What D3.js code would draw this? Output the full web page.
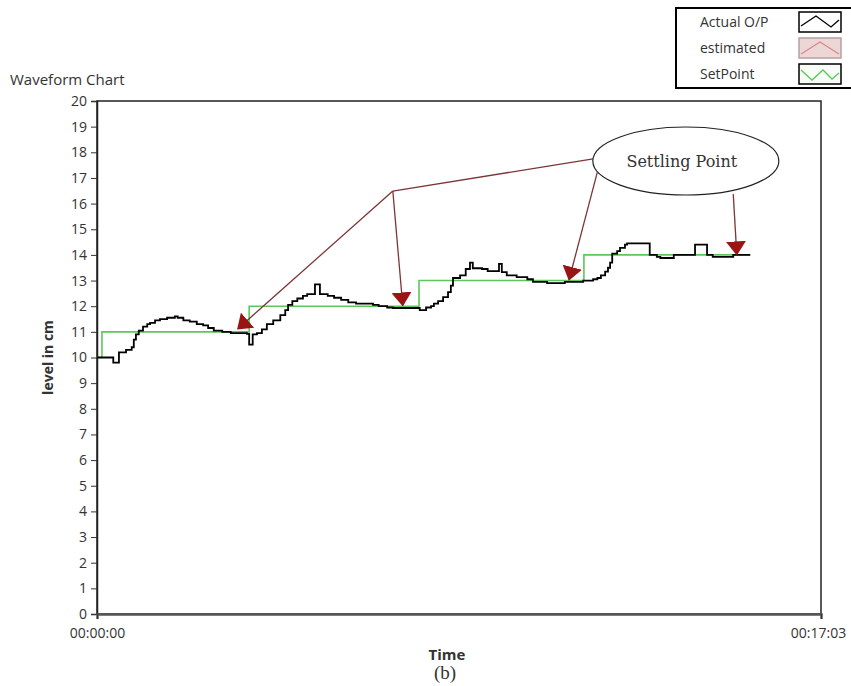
<!DOCTYPE html>
<html>
<head>
<meta charset="utf-8">
<script src="https://cdn.jsdelivr.net/npm/d3@7"></script>
<style>
  body { margin: 0; background: #fff; }
  svg text { font-family: "Open Sans", "DejaVu Sans", sans-serif; fill: #333; }
</style>
</head>
<body>
<svg id="chart" width="851" height="686"></svg>
<script>
// actual output (black), time in seconds, level in cm
const actualTime = [0, 23, 31, 41, 49, 52, 55, 59, 65, 71, 75, 82, 89, 99, 110, 114, 122, 131, 141, 150,
    157, 165, 177, 189, 212, 215, 220, 226, 233, 240, 249, 259, 266, 270, 276, 283, 291, 297, 308, 315,
    326, 335, 345, 355, 366, 390, 398, 410, 418, 456, 465, 472, 476, 482, 489, 496, 500, 503, 513, 521,
    527, 531, 544, 552, 565, 568, 572, 579, 593, 608, 616, 636, 661, 687, 701, 707, 712, 718, 722, 725,
    728, 735, 739, 746, 749, 779, 781, 791, 796, 815, 844, 845, 859, 862, 870, 897, 899, 923];
const actualLevel = [10.0, 9.8, 10.2, 10.3, 10.4, 10.7, 10.9, 11.05, 11.2, 11.3, 11.35, 11.45, 11.5, 11.55, 11.6, 11.55, 11.45, 11.4, 11.3, 11.25,
    11.15, 11.05, 11.0, 10.95, 10.92, 10.5, 10.9, 10.95, 11.1, 11.3, 11.45, 11.65, 11.85, 12.05, 12.2, 12.3, 12.4, 12.47, 12.85, 12.47,
    12.4, 12.33, 12.25, 12.15, 12.1, 12.05, 12.0, 11.95, 11.93, 11.85, 11.95, 12.0, 12.1, 12.2, 12.35, 12.55, 12.8, 13.1, 13.2, 13.45,
    13.7, 13.48, 13.45, 13.37, 13.37, 13.65, 13.33, 13.2, 13.13, 13.05, 12.95, 12.9, 12.95, 13.0, 13.05, 13.1, 13.2, 13.35, 13.5, 13.7,
    14.05, 14.15, 14.27, 14.4, 14.45, 14.45, 14.0, 13.92, 13.88, 14.0, 14.0, 14.4, 14.4, 14.0, 13.92, 13.92, 14.0, 14.0];

// set point steps (green)
const setTime = [0, 7, 215, 455, 688, 923];
const setLevel = [10, 11, 12, 13, 14, 14];

const yTicks = d3.range(0, 21);
const xTickValues = [0, 1023];
const legendLabels = ["Actual O/P", "estimated", "SetPoint"];

// settling point annotation (time s, level cm)
const calloutCenter = [832, 17.66];
const calloutLines = [[701, 17.74], [418, 16.49]];
const settleArrows = [
    { from: [418, 16.49], to: [199, 11.12] },
    { from: [418, 16.49], to: [432, 12.03] },
    { from: [707, 17.23], to: [667, 13.03] },
    { from: [899, 16.37], to: [904, 14.02] }
];

const svg = d3.select("#chart");
const margin = { left: 97, top: 101, right: 30, bottom: 72 };
const W = 851, H = 686;

const X = d3.scaleLinear().domain([0, 1023]).range([margin.left, W - margin.right]);
const Y = d3.scaleLinear().domain([0, 20]).range([H - margin.bottom, margin.top]);

function fmtTime(s) {
    const p = v => String(v).padStart(2, "0");
    return p(Math.floor(s / 3600)) + ":" + p(Math.floor(s / 60) % 60) + ":" + p(s % 60);
}

// frame
svg.append("rect")
    .attr("x", X(0)).attr("y", Y(20))
    .attr("width", X(1023) - X(0)).attr("height", Y(0) - Y(20))
    .attr("fill", "none").attr("stroke", "#222").attr("stroke-width", 1.5);

// y axis
const yAxis = svg.append("g")
    .attr("transform", `translate(${X(0)},0)`)
    .call(d3.axisLeft(Y).tickValues(yTicks).tickSize(6).tickPadding(4));
yAxis.select(".domain").attr("stroke", "#222").attr("stroke-width", 1.5);
yAxis.selectAll(".tick line").attr("stroke", "#333");
yAxis.selectAll("text").style("font-size", "14px").attr("fill", "#333");

// x axis
const xAxis = svg.append("g")
    .attr("transform", `translate(0,${Y(0)})`)
    .call(d3.axisBottom(X).tickValues(xTickValues).tickFormat(fmtTime).tickSize(5).tickPadding(9));
xAxis.select(".domain").attr("stroke", "#555").attr("stroke-width", 2.5);
xAxis.selectAll(".tick line").attr("stroke", "#333");
xAxis.selectAll("text").style("font-size", "14px").attr("fill", "#333");
xAxis.selectAll(".tick").filter(d => d === 1023).select("text").attr("dx", -3);

// series
const setData = setTime.map((t, i) => [t, setLevel[i]]);
const actualData = actualTime.map((t, i) => [t, actualLevel[i]]);
const line = d3.line().x(d => X(d[0])).y(d => Y(d[1])).curve(d3.curveStepAfter);

svg.append("path").datum(setData)
    .attr("d", line).attr("fill", "none")
    .attr("stroke", "#5cc85c").attr("stroke-width", 1.6);

svg.append("path").datum(actualData)
    .attr("d", line).attr("fill", "none")
    .attr("stroke", "#000").attr("stroke-width", 1.8);

// titles
svg.append("text").attr("x", 10).attr("y", 85)
    .style("font-size", "15px").text("Waveform Chart");

svg.append("text")
    .attr("transform", `translate(53,${Y(10)}) rotate(-90)`)
    .attr("text-anchor", "middle")
    .style("font-size", "14px").style("font-weight", "bold").attr("fill", "#000")
    .text("level in cm");

svg.append("text").attr("x", 447).attr("y", 660)
    .attr("text-anchor", "middle")
    .style("font-size", "15px").style("font-weight", "bold").attr("fill", "#000")
    .text("Time");

svg.append("text").attr("x", 445).attr("y", 679)
    .attr("text-anchor", "middle")
    .style("font-family", "'Liberation Serif', serif")
    .style("font-size", "19px").attr("fill", "#222")
    .text("(b)");

// legend
const legend = svg.append("g");
legend.append("rect").attr("x", 676).attr("y", 8).attr("width", 190).attr("height", 80)
    .attr("fill", "#fff").attr("stroke", "#000").attr("stroke-width", 2);

const iconStyles = [
    { fill: "#fff", stroke: "#000", line: "#000", pts: [[2, 14], [17, 4], [32, 15], [40, 8]] },
    { fill: "#ecd6d6", stroke: "#b8a0a0", line: "#d98a8a", pts: [[2, 16], [21, 4], [40, 16]] },
    { fill: "#f7fcf7", stroke: "#000", line: "#5cc85c", pts: [[2, 6], [13, 16], [24, 6], [33, 15], [40, 9]] }
];
legendLabels.forEach(function (label, i) {
    const cy = 22 + i * 26;
    legend.append("text").attr("x", 700).attr("y", cy + 5)
        .style("font-size", "14px").attr("fill", "#222").text(label);
    const st = iconStyles[i];
    legend.append("rect").attr("x", 799).attr("y", cy - 10).attr("width", 42).attr("height", 20)
        .attr("fill", st.fill).attr("stroke", st.stroke).attr("stroke-width", 1.5);
    legend.append("polyline")
        .attr("points", st.pts.map(p => [799 + p[0], cy - 10 + p[1]].join(",")).join(" "))
        .attr("fill", "none").attr("stroke", st.line).attr("stroke-width", 1.3);
});

// settling point callout
const annColor = "#7d3535";
svg.append("defs").append("marker")
    .attr("id", "head")
    .attr("markerUnits", "userSpaceOnUse")
    .attr("viewBox", "0 -10 14 20")
    .attr("refX", 13).attr("refY", 0)
    .attr("markerWidth", 14).attr("markerHeight", 20)
    .attr("orient", "auto")
    .append("path").attr("d", "M0,-10L14,0L0,10Z").attr("fill", "#9b1414");

svg.append("ellipse")
    .attr("cx", X(calloutCenter[0])).attr("cy", Y(calloutCenter[1]))
    .attr("rx", 93).attr("ry", 34)
    .attr("fill", "#fff").attr("stroke", "#222").attr("stroke-width", 1.2);

svg.append("text")
    .attr("x", X(calloutCenter[0]) - 4).attr("y", Y(calloutCenter[1]) + 6)
    .attr("text-anchor", "middle")
    .style("font-family", "'DejaVu Serif', serif")
    .style("font-size", "16px").attr("fill", "#8b3a3a")
    .text("Settling Point");

svg.append("line")
    .attr("x1", X(calloutLines[0][0])).attr("y1", Y(calloutLines[0][1]))
    .attr("x2", X(calloutLines[1][0])).attr("y2", Y(calloutLines[1][1]))
    .attr("stroke", annColor).attr("stroke-width", 1.3);

svg.selectAll("line.settle")
    .data(settleArrows)
    .enter()
    .append("line")
    .attr("class", "settle")
    .attr("x1", d => X(d.from[0])).attr("y1", d => Y(d.from[1]))
    .attr("x2", d => X(d.to[0])).attr("y2", d => Y(d.to[1]))
    .attr("stroke", annColor).attr("stroke-width", 1.3)
    .attr("marker-end", "url(#head)");
</script>
</body>
</html>
